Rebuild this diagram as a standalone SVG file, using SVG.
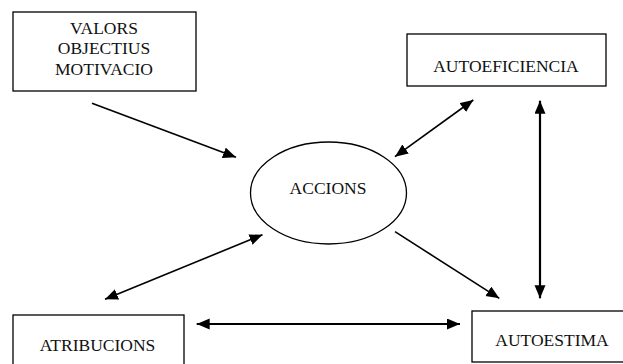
<svg xmlns="http://www.w3.org/2000/svg" width="623" height="364" viewBox="0 0 623 364">
<style>
.box{fill:#fff;stroke:#000;stroke-width:1.3}
.t{font-family:"Liberation Serif","Times New Roman",serif;font-size:17.5px;fill:#111;text-anchor:middle}
.c{stroke:#000;stroke-width:1.6;fill:none}
.c2{stroke:#000;stroke-width:2.2;fill:none}
</style>
<defs>
<marker id="ah" markerUnits="userSpaceOnUse" markerWidth="14" markerHeight="12" refX="13" refY="5.5" orient="auto-start-reverse" viewBox="0 0 14 12">
<path d="M0,0 L13,5.5 L0,11 z" fill="#000"/>
</marker>
</defs>
<rect width="623" height="364" fill="#fff"/>
<g id="valors">
<rect class="box" x="13" y="12" width="183" height="79"/>
<text class="t" x="104" y="33.5">VALORS</text>
<text class="t" x="104" y="54">OBJECTIUS</text>
<text class="t" x="104" y="74.5">MOTIVACIO</text>
</g>
<g id="autoeficiencia">
<rect class="box" x="407" y="34" width="199" height="52"/>
<text class="t" x="506" y="71.5">AUTOEFICIENCIA</text>
</g>
<g id="accions">
<ellipse class="box" cx="328.5" cy="193" rx="78" ry="51"/>
<text class="t" x="328" y="194">ACCIONS</text>
</g>
<g id="atribucions">
<rect class="box" x="13" y="315" width="171" height="60"/>
<text class="t" x="97.5" y="351">ATRIBUCIONS</text>
</g>
<g id="autoestima">
<rect class="box" x="472" y="311" width="160" height="51"/>
<text class="t" x="552" y="346">AUTOESTIMA</text>
</g>
<g id="connectors">
<line class="c" x1="92" y1="103.3" x2="236" y2="157.3" marker-end="url(#ah)"/>
<line class="c" x1="105" y1="299.3" x2="262.5" y2="234.7" marker-start="url(#ah)" marker-end="url(#ah)"/>
<line class="c" x1="395" y1="156.7" x2="473.3" y2="100" marker-start="url(#ah)" marker-end="url(#ah)"/>
<line class="c2" x1="540" y1="100.7" x2="540" y2="298.3" marker-start="url(#ah)" marker-end="url(#ah)"/>
<line class="c" x1="395" y1="231.7" x2="499.3" y2="298.3" marker-end="url(#ah)"/>
<line class="c2" x1="196.7" y1="324" x2="460" y2="324" marker-start="url(#ah)" marker-end="url(#ah)"/>
</g>
</svg>
